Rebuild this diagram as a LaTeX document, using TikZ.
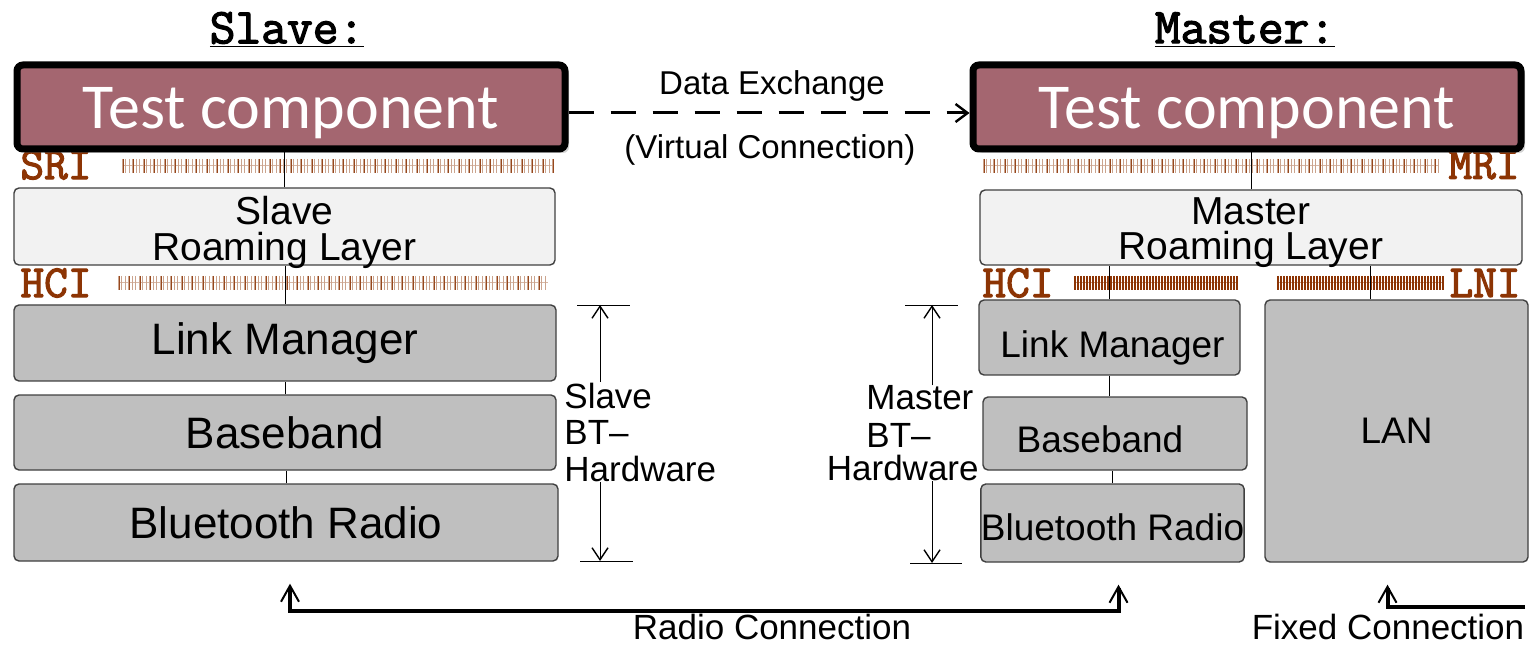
\documentclass[tikz,border=0pt]{standalone}
\usepackage{fontspec}
\setmainfont{Liberation Sans}
\newfontfamily\calfont{Carlito}
\newfontfamily\courfont{Latin Modern Mono}[FakeBold=2.5]
\usetikzlibrary{arrows.meta,shadows}

\definecolor{ifbrown}{RGB}{140,52,4}
\definecolor{testred}{RGB}{164,102,112}
\definecolor{hwgray}{RGB}{191,191,191}
\definecolor{roamgray}{RGB}{242,242,242}

\newcommand{\dropby}[2]{\raisebox{-#1}[\height][\depth]{#2}}

\begin{document}
\begin{tikzpicture}[x=0.5pt,y=-0.5pt,
  layer/.style={draw=black!75,fill=hwgray,rounded corners=2.5pt,line width=0.7pt,inner sep=0pt,font=\fontsize{22}{24}\selectfont},
  mlayer/.style={layer,font=\fontsize{18.5}{20}\selectfont},
  roam/.style={layer,fill=roamgray,align=center,font=\fontsize{19.5}{17}\selectfont},
  testbox/.style={draw=black,line width=3.5pt,fill=testred,rounded corners=3pt,minimum width=274pt,minimum height=42pt,text=white,font=\calfont\fontsize{32}{34}\selectfont,drop shadow={opacity=0.35,shadow xshift=2pt,shadow yshift=-2pt}},
  iflabel/.style={text=ifbrown,font=\courfont\fontsize{23}{23}\selectfont,inner sep=0pt},
  title/.style={font=\courfont\fontsize{25}{25}\selectfont,inner sep=0pt},
  note/.style={inner sep=0pt,font=\fontsize{17.5}{18.25}\selectfont},
  barb/.style={-{Straight Barb[length=6pt,width=8pt,line width=0.7pt]}},
  tip/.tip={Straight Barb[length=8pt,width=9pt,line width=1pt]},
  conn/.style={line width=2pt}
]
\useasboundingbox (0,0) rectangle (1530,646);

% titles
\node[title] (slavetitle) at (287,30) {\underline{Slave:}};
\node[title] (mastertitle) at (1245,30) {\underline{Master:}};

% interfaces (thin hatch)
\foreach \xa/\xb/\yy in {122/553/166,118/548/283,983/1438/166}{
  \pgfmathtruncatemacro{\n}{(\xb-\xa)/3.5}
  \draw[ifbrown!35,line width=0.5pt] (\xa,\yy) -- (\xb,\yy);
  \foreach \k in {0,...,\n}
    \draw[ifbrown!45,line width=0.35pt] (\xa+3.5*\k,\yy-7) -- (\xa+3.5*\k,\yy+7);
  \foreach \k in {0,3,...,\n}
    \draw[ifbrown!90,line width=0.5pt] (\xa+1+3.5*\k,\yy-7) -- (\xa+1+3.5*\k,\yy+7);
}
% interfaces (dense hatch)
\foreach \xa/\xb in {1075/1237,1278/1443}{
  \pgfmathtruncatemacro{\n}{(\xb-\xa)/3}
  \draw[ifbrown!50,line width=0.5pt] (\xa,283) -- (\xb,283);
  \foreach \k in {0,...,\n}
    \draw[ifbrown,line width=1.1pt] (\xa+3*\k,276) -- (\xa+3*\k,290);
}
\node[iflabel] (sri) at (56,165) {SRI};
\node[iflabel] (shci) at (56,283) {HCI};
\node[iflabel] (mri) at (1484,165) {MRI};
\node[iflabel] (mhci) at (1018,283) {HCI};
\node[iflabel] (lni) at (1485,283) {LNI};

% slave stack
\node[roam,minimum width=270.5pt,minimum height=38.5pt] (slaveroam) at (284.5,226.5) {\dropby{3pt}{\shortstack{Slave\\[0.5pt]Roaming Layer}}};
\node[layer,minimum width=271pt,minimum height=38pt] (slavelm) at (285,343) {Link Manager};
\node[layer,minimum width=271pt,minimum height=37.5pt] (slavebb) at (285,432.5) {Baseband};
\node[layer,minimum width=272pt,minimum height=38.5pt] (slavebr) at (286,522.5) {Bluetooth Radio};

% master stack
\node[roam,minimum width=271pt,minimum height=37.5pt] (masterroam) at (1251,227.5) {\dropby{2.5pt}{\shortstack{Master\\[0.5pt]Roaming Layer}}};
\node[mlayer,minimum width=130.5pt,minimum height=37.5pt] (masterlm) at (1109.5,337.5) {\dropby{5pt}{\hspace*{3pt}Link Manager}};
\node[mlayer,minimum width=132pt,minimum height=36.5pt] (masterbb) at (1115,433.5) {\dropby{3pt}{Baseband\hspace*{15pt}}};
\node[mlayer,minimum width=131.5pt,minimum height=39pt] (masterbr) at (1112.5,523) {\dropby{2pt}{Bluetooth Radio}};
\node[mlayer,minimum width=131.5pt,minimum height=131pt] (lan) at (1396.5,431) {LAN};

% test components
\node[testbox] (slavetest) at (291,107) {\dropby{3pt}{Test component}};
\node[testbox] (mastertest) at (1247,107) {\dropby{3pt}{Test component}};

% links between layers
\draw (slaveroam.north) -- (slaveroam.north |- slavetest.south);
\draw (slavelm.north) -- (slavelm.north |- slaveroam.south);
\draw (slavebb) -- (slavelm);
\draw (slavebr.north) -- (slavebr.north |- slavebb.south);
\draw (masterroam.north) -- (masterroam.north |- mastertest.south);
\draw (masterlm.north) -- (masterlm.north |- masterroam.south);
\draw ([xshift=-13pt]lan.north) -- ([xshift=-13pt]lan.north |- masterroam.south);
\draw (masterlm.south) -- (masterlm.south |- masterbb.north);
\draw (masterbr.north) -- (masterbr.north |- masterbb.south);

% virtual connection
\draw[line width=1.5pt,dash pattern=on 12.5pt off 8.5pt,-{Straight Barb[length=6pt,width=9pt,line width=1.2pt]}]
  ([yshift=-3pt]slavetest.east) -- ([yshift=-3pt]mastertest.west);
\node[font=\fontsize{16.5}{18}\selectfont] (dxlabel) at (772,86) {Data Exchange};
\node[font=\fontsize{16.5}{18}\selectfont] (vclabel) at (770,150) {(Virtual Connection)};

% slave hardware span
\coordinate (sdtop) at (600,305);
\coordinate (sdbot) at (600,561);
\draw (577,305) -- (630,305);
\draw (580,561) -- (633,561);
\node[note,anchor=west,align=left] (slavehw) at (564,432) {Slave\\BT\textendash\\Hardware};
\draw[barb] (sdtop |- slavehw.north) -- (sdtop);
\draw[barb] (sdbot |- slavehw.south) -- (sdbot);

% master hardware span
\coordinate (mdtop) at (932,305);
\coordinate (mdbot) at (932,563);
\draw (905,305) -- (958,305);
\draw (910,563) -- (962,563);
\node[note,anchor=west] (mhw1) at (866,398) {Master};
\node[note,anchor=west] (mhw2) at (866,435) {BT\textendash};
\node[note,anchor=east] (mhw3) at (979,468) {Hardware};
\draw[barb] (mdtop |- mhw1.north) -- (mdtop);
\draw[barb] (mdbot |- mhw3.south) -- (mdbot);

% radio and fixed connections
\draw[conn,tip-tip] ([xshift=2pt,yshift=-11pt]slavebr.south) -- ++(0,27) -| ([xshift=3pt,yshift=-11pt]masterbr.south);
\node[note] (radiolabel) at (772,627) {Radio Connection};
\coordinate (fixin) at (1525,607);
\draw[conn,-tip] (fixin) -| ([xshift=-4.5pt,yshift=-11pt]lan.south);
\node[note] (fixlabel) at (1388,627) {Fixed Connection};
\end{tikzpicture}
\end{document}
